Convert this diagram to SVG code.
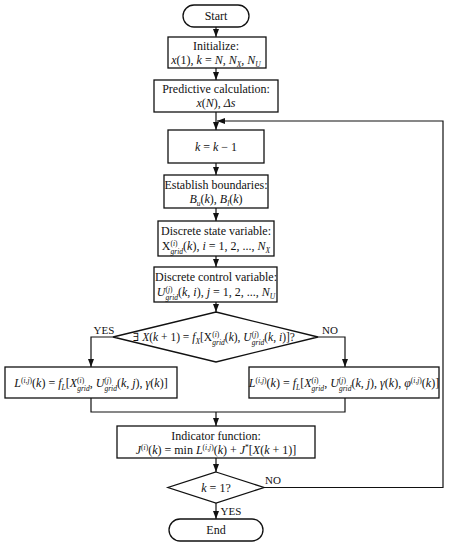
<svg xmlns="http://www.w3.org/2000/svg" width="449" height="550" viewBox="0 0 449 550">
<defs>
<marker id="ah" viewBox="0 0 8 6" refX="8" refY="3" markerWidth="8" markerHeight="6" markerUnits="userSpaceOnUse" orient="auto">
<path d="M0,0 L8,3 L0,6 Z" fill="#111"/>
</marker>
<style>
text{font-family:'Liberation Serif','DejaVu Serif',serif;font-size:12px;fill:#111;text-anchor:middle}
.i{font-style:italic}
.sup{font-size:7.5px}
.sub{font-size:7.5px}
.box{fill:#fff;stroke:#111;stroke-width:1.3}
.ln{fill:none;stroke:#111;stroke-width:1.2}
.lbl{font-size:11px}
.dm{font-size:11.5px}
</style>
</defs>
<rect width="449" height="550" fill="#fff"/>

<g id="connectors" font-family="Liberation Serif, DejaVu Serif, serif">
<path class="ln" d="M216,27 V37" marker-end="url(#ah)"/>
<path class="ln" d="M216,68 V80" marker-end="url(#ah)"/>
<path class="ln" d="M216,112 V130" marker-end="url(#ah)"/>
<path class="ln" d="M264,487.5 H443 V121 H217" marker-end="url(#ah)"/>
<path class="ln" d="M216,163 V175" marker-end="url(#ah)"/>
<path class="ln" d="M216,208 V221" marker-end="url(#ah)"/>
<path class="ln" d="M216,256 V267" marker-end="url(#ah)"/>
<path class="ln" d="M216,302 V312" marker-end="url(#ah)"/>
<path class="ln" d="M113,337 H91 V367" marker-end="url(#ah)"/>
<path class="ln" d="M318,337 H345 V367" marker-end="url(#ah)"/>
<path class="ln" d="M91,398 V412 H345 V398"/>
<path class="ln" d="M216,412 V426" marker-end="url(#ah)"/>
<path class="ln" d="M216,458 V472" marker-end="url(#ah)"/>
<path class="ln" d="M216,503 V519" marker-end="url(#ah)"/>
<text class="lbl" x="104" y="334" font-family="Liberation Serif, serif">YES</text>
<text class="lbl" x="330" y="334" font-family="Liberation Serif, serif">NO</text>
<text class="lbl" x="273" y="484" font-family="Liberation Serif, serif">NO</text>
<text class="lbl" x="231" y="515" font-family="Liberation Serif, serif">YES</text>
</g>

<g id="start" font-family="Liberation Serif, serif">
<rect class="box" x="183" y="5" width="66" height="22" rx="11"/>
<text x="216" y="20" font-family="Liberation Serif, serif">Start</text>
</g>

<g id="initialize">
<rect class="box" x="168" y="37" width="98" height="31"/>
<text x="216" y="50" font-family="Liberation Serif, serif">Initialize:</text>
<text x="216" y="64" font-family="Liberation Serif, serif"><tspan class="i">x</tspan>(1), <tspan class="i">k</tspan> = <tspan class="i">N</tspan>, <tspan class="i">N</tspan><tspan class="sub i" dy="3">X</tspan><tspan dy="-3">, </tspan><tspan class="i">N</tspan><tspan class="sub i" dy="3">U</tspan></text>
</g>

<g id="predictive">
<rect class="box" x="154" y="80" width="124" height="32"/>
<text x="216" y="93" font-family="Liberation Serif, serif">Predictive calculation:</text>
<text x="216" y="107" font-family="Liberation Serif, serif"><tspan class="i">x</tspan>(<tspan class="i">N</tspan>), <tspan class="i">Δs</tspan></text>
</g>

<g id="decrement">
<rect class="box" x="168" y="130" width="96" height="33"/>
<text x="216" y="151" font-family="Liberation Serif, serif"><tspan class="i">k</tspan> = <tspan class="i">k</tspan> − 1</text>
</g>

<g id="boundaries">
<rect class="box" x="164" y="175" width="104" height="33"/>
<text x="216" y="189" font-family="Liberation Serif, serif">Establish boundaries:</text>
<text x="216" y="203" font-family="Liberation Serif, serif"><tspan class="i">B</tspan><tspan class="sub i" dy="3">u</tspan><tspan dy="-3">(</tspan><tspan class="i">k</tspan>), <tspan class="i">B</tspan><tspan class="sub i" dy="3">l</tspan><tspan dy="-3">(</tspan><tspan class="i">k</tspan>)</text>
</g>

<g id="state">
<rect class="box" x="158" y="221" width="116" height="35"/>
<text x="216" y="235" font-family="Liberation Serif, serif">Discrete state variable:</text>
<text x="216" y="250" font-family="Liberation Serif, serif">X<tspan class="sup" dy="-4">(<tspan class="i">i</tspan>)</tspan><tspan class="sub i" dx="-7" dy="7.5">grid</tspan><tspan dy="-3.5">(</tspan><tspan class="i">k</tspan>), <tspan class="i">i</tspan> = 1, 2, ..., <tspan class="i">N</tspan><tspan class="sub i" dy="3">X</tspan></text>
</g>

<g id="control">
<rect class="box" x="154" y="267" width="123" height="35"/>
<text x="216" y="281" font-family="Liberation Serif, serif">Discrete control variable:</text>
<text x="216" y="296" font-family="Liberation Serif, serif"><tspan class="i">U</tspan><tspan class="sup" dy="-4">(<tspan class="i">j</tspan>)</tspan><tspan class="sub i" dx="-7" dy="7.5">grid</tspan><tspan dy="-3.5">(</tspan><tspan class="i">k</tspan>, <tspan class="i">i</tspan>), <tspan class="i">j</tspan> = 1, 2, ..., <tspan class="i">N</tspan><tspan class="sub i" dy="3">U</tspan></text>
</g>

<g id="exists">
<polygon class="box" points="216,312 318,337 216,362 113,337"/>
<text class="dm" x="214" y="341" font-family="Liberation Serif, serif">∃ <tspan class="i">X</tspan>(<tspan class="i">k</tspan> + 1) = <tspan class="i">f</tspan><tspan class="sub i" dy="3">X</tspan><tspan dy="-3">[X</tspan><tspan class="sup" dy="-4">(<tspan class="i">i</tspan>)</tspan><tspan class="sub i" dx="-7" dy="7.5">grid</tspan><tspan dy="-3.5">(</tspan><tspan class="i">k</tspan>), <tspan class="i">U</tspan><tspan class="sup" dy="-4">(<tspan class="i">j</tspan>)</tspan><tspan class="sub i" dx="-7" dy="7.5">grid</tspan><tspan dy="-3.5">(</tspan><tspan class="i">k</tspan>, <tspan class="i">i</tspan>)]?</text>
</g>

<g id="cost-left">
<rect class="box" x="5" y="367" width="172" height="31"/>
<text x="91" y="387" font-family="Liberation Serif, serif"><tspan class="i">L</tspan><tspan class="sup" dy="-4">(<tspan class="i">i</tspan>,<tspan class="i">j</tspan>)</tspan><tspan dy="4">(</tspan><tspan class="i">k</tspan>) = <tspan class="i">f</tspan><tspan class="sub i" dy="3">L</tspan><tspan dy="-3">[</tspan><tspan class="i">X</tspan><tspan class="sup" dy="-4">(<tspan class="i">i</tspan>)</tspan><tspan class="sub i" dx="-7" dy="7.5">grid</tspan><tspan dy="-3.5">, </tspan><tspan class="i">U</tspan><tspan class="sup" dy="-4">(<tspan class="i">j</tspan>)</tspan><tspan class="sub i" dx="-7" dy="7.5">grid</tspan><tspan dy="-3.5">(</tspan><tspan class="i">k</tspan>, <tspan class="i">j</tspan>), <tspan class="i">γ</tspan>(<tspan class="i">k</tspan>)]</text>
</g>

<g id="cost-right">
<rect class="box" x="249" y="367" width="190" height="31"/>
<text x="344" y="387" font-family="Liberation Serif, serif"><tspan class="i">L</tspan><tspan class="sup" dy="-4">(<tspan class="i">i</tspan>,<tspan class="i">j</tspan>)</tspan><tspan dy="4">(</tspan><tspan class="i">k</tspan>) = <tspan class="i">f</tspan><tspan class="sub i" dy="3">L</tspan><tspan dy="-3">[</tspan><tspan class="i">X</tspan><tspan class="sup" dy="-4">(<tspan class="i">i</tspan>)</tspan><tspan class="sub i" dx="-7" dy="7.5">grid</tspan><tspan dy="-3.5">, </tspan><tspan class="i">U</tspan><tspan class="sup" dy="-4">(<tspan class="i">j</tspan>)</tspan><tspan class="sub i" dx="-7" dy="7.5">grid</tspan><tspan dy="-3.5">(</tspan><tspan class="i">k</tspan>, <tspan class="i">j</tspan>), <tspan class="i">γ</tspan>(<tspan class="i">k</tspan>), <tspan class="i">φ</tspan><tspan class="sup" dy="-4">(<tspan class="i">i</tspan>,<tspan class="i">j</tspan>)</tspan><tspan dy="4">(</tspan><tspan class="i">k</tspan>)]</text>
</g>

<g id="indicator">
<rect class="box" x="117" y="426" width="198" height="32"/>
<text x="216" y="440" font-family="Liberation Serif, serif">Indicator function:</text>
<text x="216" y="454" font-family="Liberation Serif, serif"><tspan class="i">J</tspan><tspan class="sup" dy="-4">(<tspan class="i">i</tspan>)</tspan><tspan dy="4">(</tspan><tspan class="i">k</tspan>) = min <tspan class="i">L</tspan><tspan class="sup" dy="-4">(<tspan class="i">i</tspan>,<tspan class="i">j</tspan>)</tspan><tspan dy="4">(</tspan><tspan class="i">k</tspan>) + <tspan class="i">J</tspan><tspan class="sup" dy="-4">*</tspan><tspan dy="4">[</tspan><tspan class="i">X</tspan>(<tspan class="i">k</tspan> + 1)]</text>
</g>

<g id="check">
<polygon class="box" points="216,472 264,487.5 216,503 168,487.5"/>
<text x="216" y="492" font-family="Liberation Serif, serif"><tspan class="i">k</tspan> = 1?</text>
</g>

<g id="end">
<rect class="box" x="169" y="519" width="94" height="22" rx="11"/>
<text x="216" y="534" font-family="Liberation Serif, serif">End</text>
</g>
</svg>
